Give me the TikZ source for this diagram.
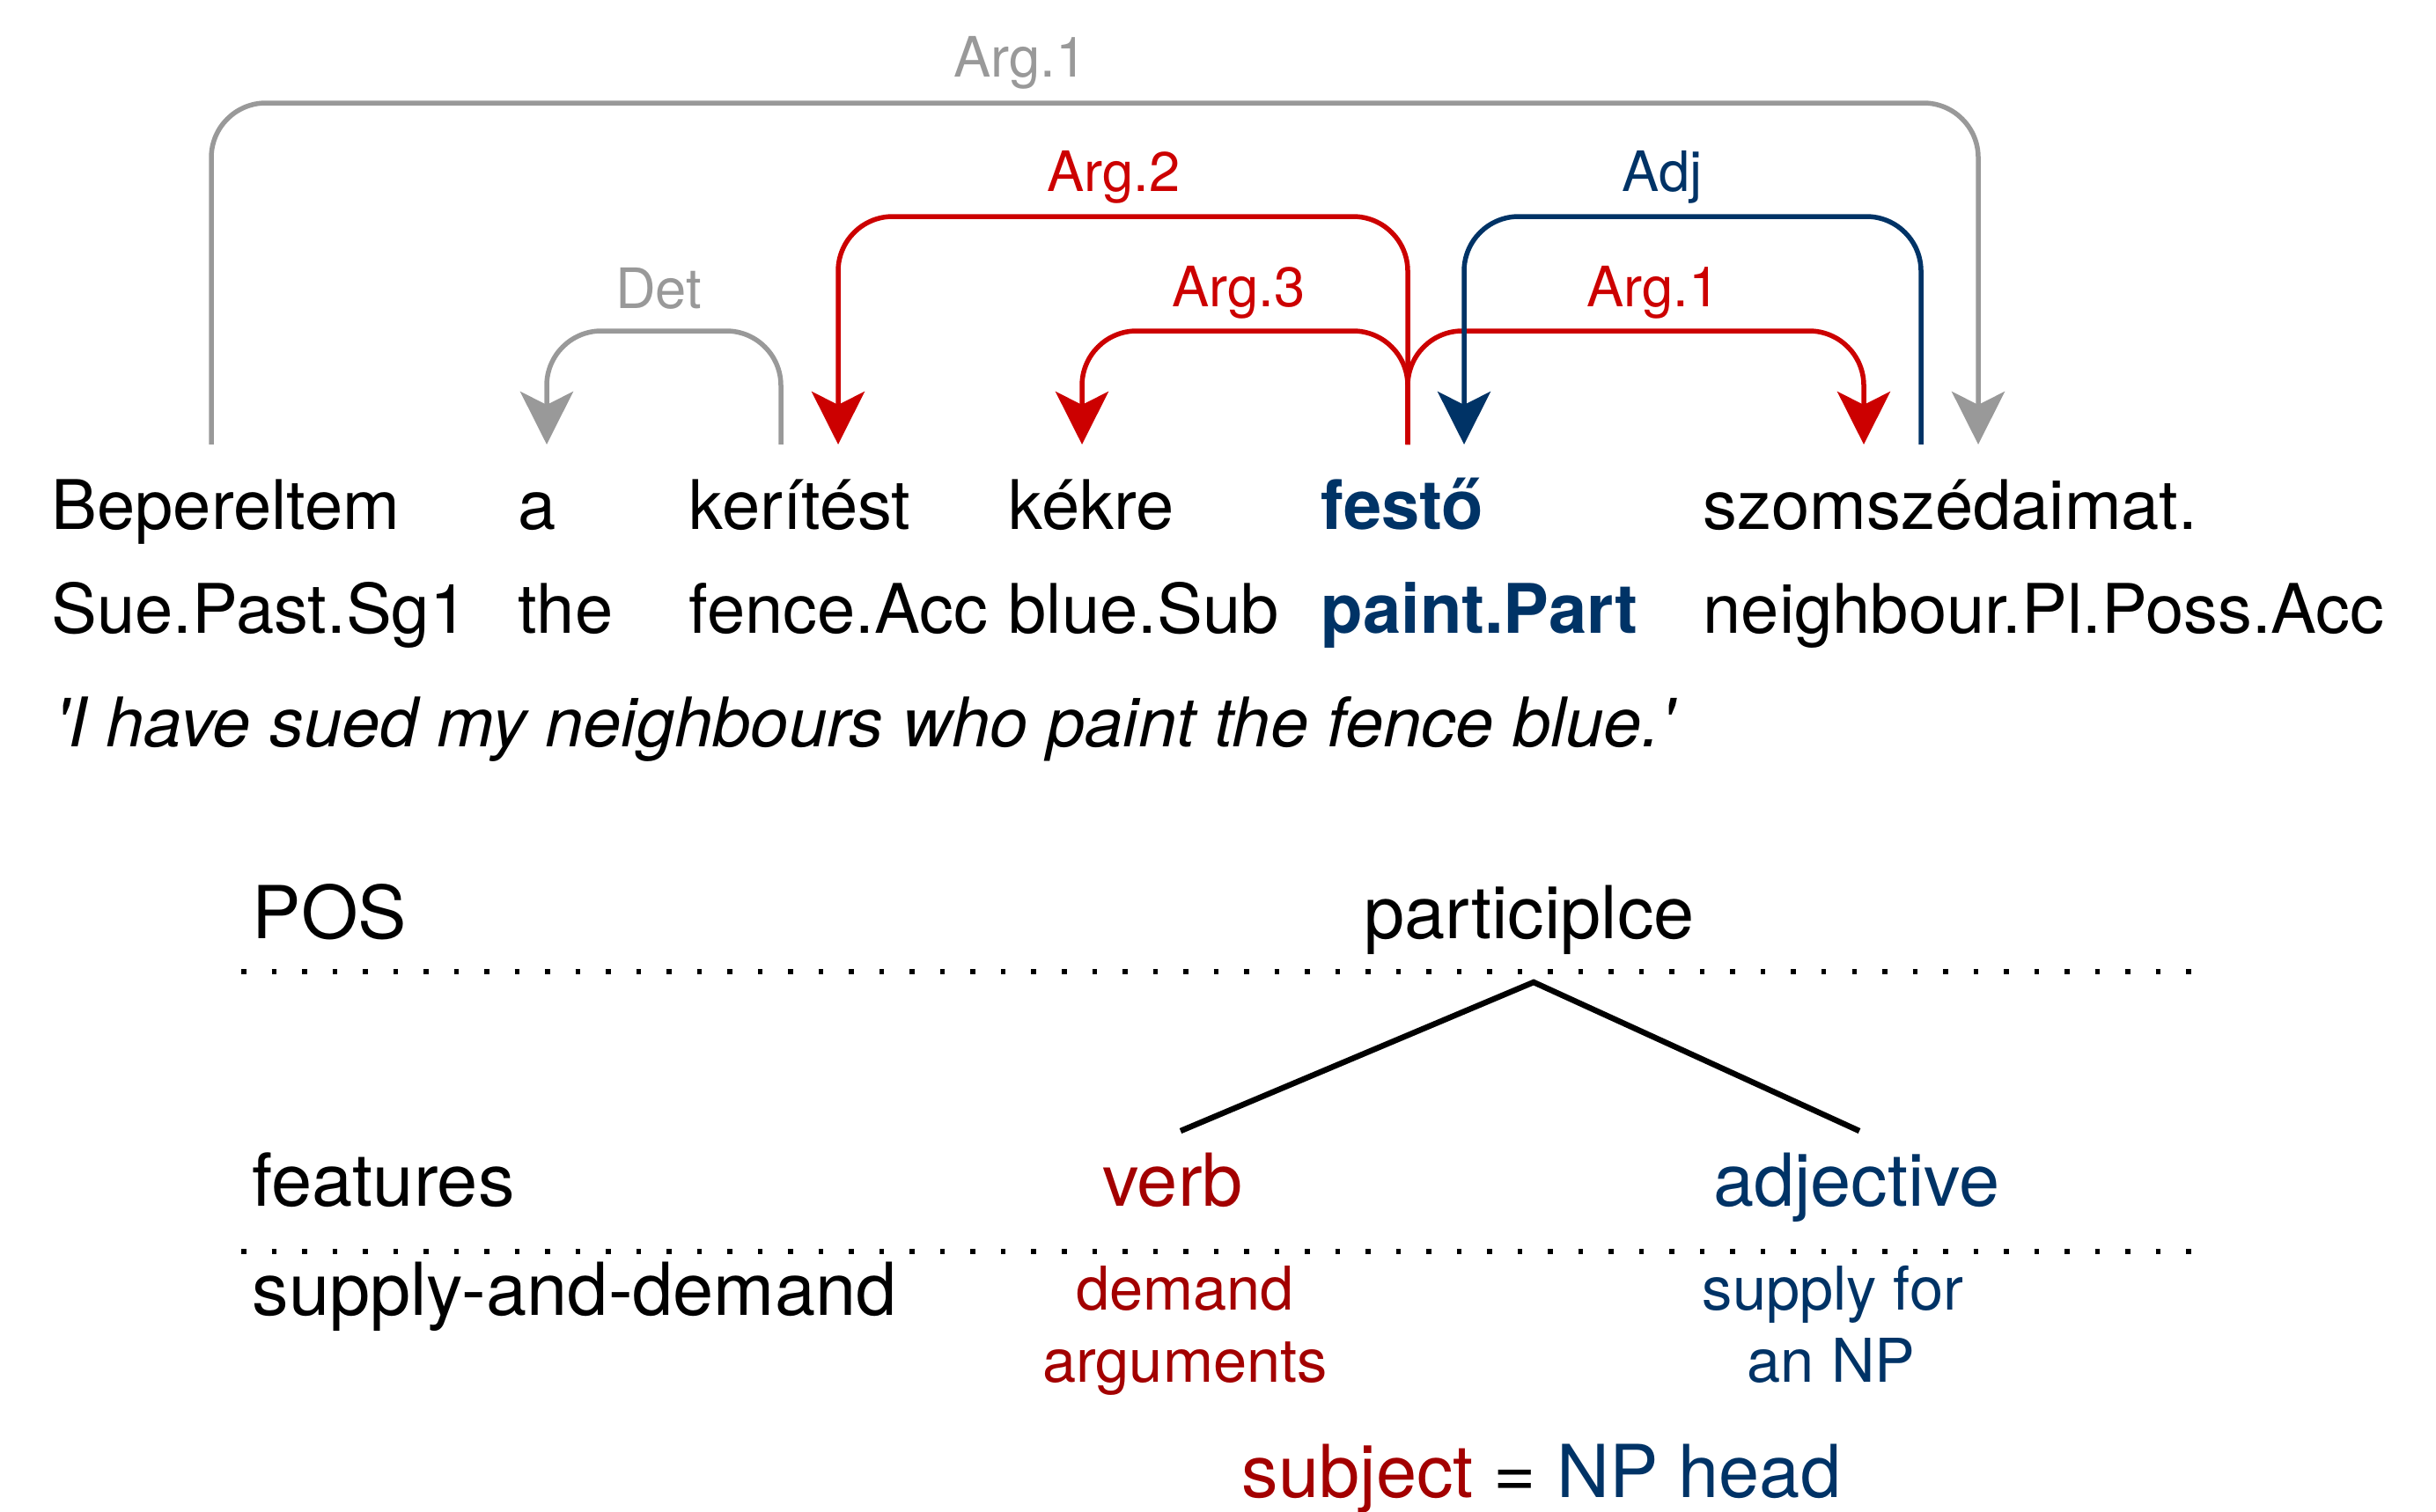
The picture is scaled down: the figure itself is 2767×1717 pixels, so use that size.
\documentclass[tikz,border=0pt]{standalone}
\usepackage{fontspec}
\setmainfont{TeX Gyre Heros}
\usetikzlibrary{arrows.meta}
\definecolor{arcgrey}{HTML}{999999}
\definecolor{arcred}{HTML}{CC0000}
\definecolor{navy}{HTML}{003366}
\definecolor{dred}{HTML}{A30000}
\begin{document}
\begin{tikzpicture}[x=0.01cm,y=-0.01cm,
  word/.style={inner sep=0pt, anchor=base west, font=\fontsize{22.1pt}{26pt}\selectfont},
  bigword/.style={inner sep=0pt, anchor=base west, font=\fontsize{23.6pt}{28pt}\selectfont},
  cword/.style={inner sep=0pt, anchor=base, font=\fontsize{23.6pt}{28pt}\selectfont},
  small/.style={inner sep=0pt, anchor=base, font=\fontsize{19.5pt}{23pt}\selectfont},
  lbl/.style={inner sep=0pt, anchor=base, font=\fontsize{18pt}{21pt}\selectfont},
  deparc/.style={line width=0.055cm, rounded corners=0.62cm, line join=round,
     -{Stealth[length=0.6cm,width=0.6cm,inset=0.15cm]}},
  dotline/.style={line width=0.055cm, dash pattern=on 0.055cm off 0.29cm},
  treeline/.style={line width=0.065cm}
]
\path[use as bounding box] (0,0) rectangle (2767,1717);

% words
\node[word] (w1) at (58,601) {Bepereltem};
\node[word] (w2) at (588,601) {a};
\node[word] (w3) at (782,601) {kerítést};
\node[word] (w4) at (1145,601) {kékre};
\node[word, text=navy, font=\fontsize{22.1pt}{26pt}\selectfont\bfseries] (w5) at (1500,601) {festő};
\node[word] (w6) at (1934,601) {szomszédaimat.};
% glosses
\node[word] (g1) at (58,719) {Sue.Past.Sg1};
\node[word] (g2) at (588,719) {the};
\node[word] (g3) at (782,719) {fence.Acc};
\node[word] (g4) at (1145,719) {blue.Sub};
\node[word, text=navy, font=\fontsize{22.1pt}{26pt}\selectfont\bfseries] (g5) at (1500,719) {paint.Part};
\node[word] (g6) at (1934,719) {neighbour.Pl.Poss.Acc};
% translation
\node[word, font=\fontsize{22.1pt}{26pt}\selectfont\itshape] (tr) at (62,848)
  {\textquotesingle I have sued my neighbours who paint the fence blue.\textquotesingle};

% arc end points
\coordinate (sg1) at (240,505);
\coordinate (tg1) at (2247,505);
\coordinate (sdet) at (887,505);
\coordinate (tdet) at (621,505);
\coordinate (sred) at (1599,505);
\coordinate (ta2) at (952,505);
\coordinate (ta3) at (1229,505);
\coordinate (tr1) at (2117,505);
\coordinate (sadj) at (2182,505);
\coordinate (tadj) at (1663,505);

% arcs
\draw[deparc, arcgrey] (sg1) -- ++(0,-388) -| (tg1);
\draw[deparc, arcgrey] (sdet) -- ++(0,-129) -| (tdet);
\draw[deparc, arcred] (sred) -- ++(0,-259) -| (ta2);
\draw[deparc, arcred] (sred) -- ++(0,-129) -| (ta3);
\draw[deparc, arcred] (sred) -- ++(0,-129) -| (tr1);
\draw[deparc, navy] (sadj) -- ++(0,-259) -| (tadj);

% arc labels
\node[lbl, text=arcgrey] (lg1) at (1159,87) {Arg.1};
\node[lbl, text=arcgrey] (ldet) at (748,350) {Det};
\node[lbl, text=arcred] (la2) at (1265,217) {Arg.2};
\node[lbl, text=arcred] (la3) at (1407,348) {Arg.3};
\node[lbl, text=arcred] (lr1) at (1878,348) {Arg.1};
\node[lbl, text=navy] (ladj) at (1888,217) {Adj};

% lower part
\node[bigword] (pos) at (286,1066) {POS};
\node[cword] (part) at (1737,1066) {participlce};
\draw[dotline] (274,1104) -- (2500,1104);
\coordinate (apex) at (1742,1116);
\coordinate (tl) at (1341,1285);
\coordinate (trr) at (2112,1285);
\draw[treeline] (tl) -- (apex) -- (trr);
\node[bigword] (feat) at (286,1370) {features};
\node[cword, text=dred] (verb) at (1332,1370) {verb};
\node[cword, text=navy] (adj) at (2109,1370) {adjective};
\draw[dotline] (274,1422) -- (2500,1422);
\node[bigword] (sad) at (286,1494) {supply-and-demand};
\node[small, text=dred] (dem1) at (1346,1488) {demand};
\node[small, text=dred] (dem2) at (1346,1570) {arguments};
\node[small, text=navy] (sup1) at (2082,1488) {supply for};
\node[small, text=navy] (sup2) at (2080,1570) {an NP};
\node[cword] (subj) at (1751,1701) {\textcolor{dred}{subject} = \textcolor{navy}{NP head}};
\end{tikzpicture}
\end{document}
